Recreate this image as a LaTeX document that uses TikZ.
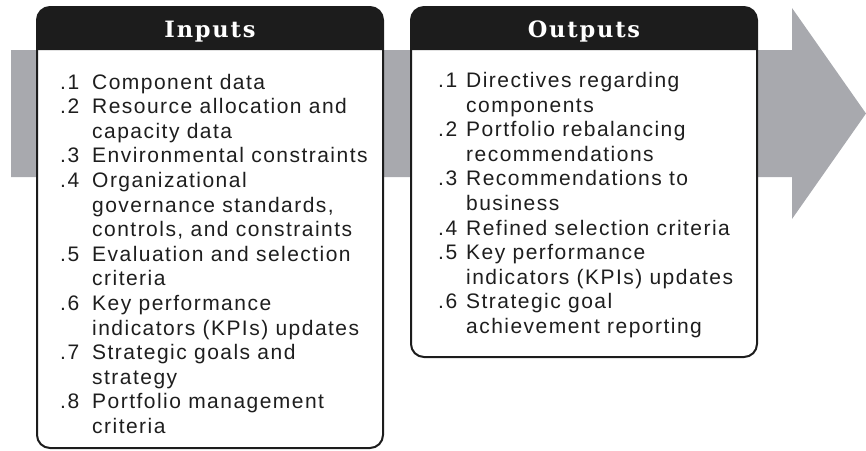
\documentclass[tikz,border=0pt]{standalone}
\usepackage{fontspec}
\setmainfont{Liberation Sans}[LetterSpace=7]
\newfontfamily\headfont{DejaVu Serif}[LetterSpace=8]

\definecolor{boxblack}{RGB}{28,28,28}
\definecolor{textblack}{RGB}{30,30,30}
\definecolor{flowgray}{RGB}{168,169,174}

% item number hanging left of the item text
\newcommand{\itemno}[2][13pt]{\llap{#2\hspace{#1}}}

\begin{document}
\begin{tikzpicture}[x=1pt, y=-1pt,
  box frame/.style={draw=boxblack, line width=2pt, rounded corners=13pt},
  box head/.style={fill=boxblack},
  head label/.style={anchor=base, text=white, inner sep=0pt,
    font=\headfont\bfseries\fontsize{22.5}{24}\selectfont},
  item list/.style={anchor=base west, inner sep=0pt, text=textblack,
    font=\fontsize{21}{24.6}\selectfont},
  flow arrow/.style={fill=flowgray}
]
  \useasboundingbox (0,0) rectangle (866,450);

  % Wide gray process arrow behind both boxes
  \fill[flow arrow] (11,50) -- (792,50) -- (792,8) -- (866,113.5)
    -- (792,219) -- (792,177) -- (11,177) -- cycle;

  % Inputs box: white body, black header, rounded frame
  \fill[white, rounded corners=13pt] (37,7) rectangle (383,448);
  \fill[box head] (37,50) [rounded corners=13pt] -- (37,7) -- (383,7)
    [sharp corners] -- (383,50) -- cycle;
  \draw[box frame] (37,7) rectangle (383,448);
  \node[head label] (inhead) at (210,37) {Inputs};
  \node[item list] (inlist) at (92,89) {%
    \begin{tabular}[t]{@{}l@{}}
      \itemno{.1}Component data\\
      \itemno{.2}Resource allocation and\\
      capacity data\\
      \itemno{.3}Environmental constraints\\
      \itemno{.4}Organizational\\
      governance standards,\\
      controls, and constraints\\
      \itemno{.5}Evaluation and selection\\
      criteria\\
      \itemno{.6}Key performance\\
      indicators (KPIs) updates\\
      \itemno{.7}Strategic goals and\\
      strategy\\
      \itemno{.8}Portfolio management\\
      criteria
    \end{tabular}};

  % Outputs box
  \fill[white, rounded corners=13pt] (411,7) rectangle (757,357);
  \fill[box head] (411,50) [rounded corners=13pt] -- (411,7) -- (757,7)
    [sharp corners] -- (757,50) -- cycle;
  \draw[box frame] (411,7) rectangle (757,357);
  \node[head label] (outhead) at (584,37) {Outputs};
  \node[item list] (outlist) at (466,87.5) {%
    \begin{tabular}[t]{@{}l@{}}
      \itemno[9pt]{.1}Directives regarding\\
      components\\
      \itemno[9pt]{.2}Portfolio rebalancing\\
      recommendations\\
      \itemno[9pt]{.3}Recommendations to\\
      business\\
      \itemno[9pt]{.4}Refined selection criteria\\
      \itemno[9pt]{.5}Key performance\\
      indicators (KPIs) updates\\
      \itemno[9pt]{.6}Strategic goal\\
      achievement reporting
    \end{tabular}};

\end{tikzpicture}
\end{document}
